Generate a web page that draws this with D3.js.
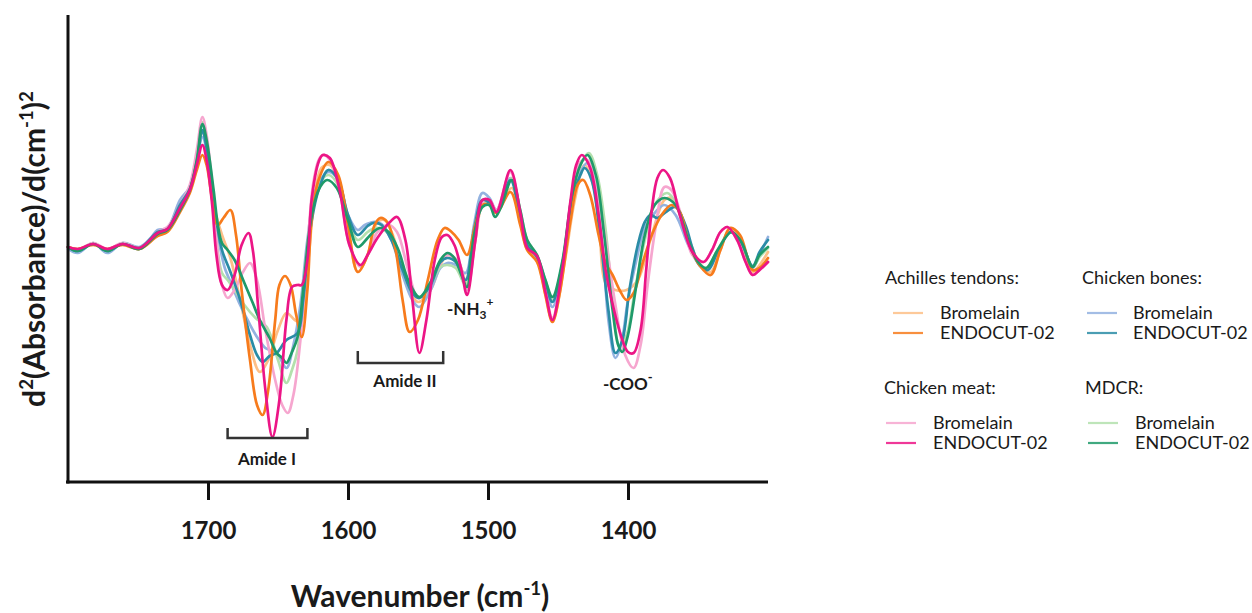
<!DOCTYPE html>
<html>
<head>
<meta charset="utf-8">
<script src="https://cdn.jsdelivr.net/npm/d3@7"></script>
<style>
  body { margin: 0; background: #fff; }
  svg { display: block; }
  text { font-family: Lato, "Open Sans", sans-serif; fill: #1a1a1a; }
</style>
</head>
<body>
<svg id="chart" width="1252" height="613"></svg>
<script>
// Second-derivative FTIR spectra, [wavenumber (cm-1), d2A/dv2 (arb. units)]
const wavenumberTicks = [1700, 1600, 1500, 1400];

const atBromelain = [[1800,0],[1793,-0.02],[1782,0.03],[1772,-0.02],[1761,0.03],[1749,-0.02],[1736,0.13],[1729,0.17],[1720,0.37],[1713,0.57],[1708,0.85],[1704,1.15],[1699,0.77],[1695,0.37],[1690,0.12],[1684,-0.11],[1677,-0.53],[1670,-0.98],[1663,-1.25],[1657,-1.13],[1650,-0.83],[1644,-0.66],[1638,-0.73],[1634,-0.75],[1629,-0.23],[1624,0.47],[1619,0.79],[1613,0.82],[1607,0.67],[1600,0.17],[1593,-0.25],[1586,-0.08],[1579,0.25],[1574,0.27],[1568,0.12],[1559,-0.33],[1550,-0.55],[1541,-0.43],[1534,-0.18],[1529,-0.08],[1521,-0.15],[1515,-0.38],[1509,0.07],[1504,0.42],[1499,0.45],[1494,0.34],[1483,0.59],[1472,-0.03],[1465,-0.13],[1454,-0.73],[1445,-0.13],[1438,0.47],[1431,0.82],[1424,0.57],[1420,0.07],[1416,-0.36],[1409,-0.43],[1401,-0.43],[1393,-0.33],[1384,0.07],[1374,0.47],[1369,0.49],[1359,0.17],[1349,-0.16],[1341,-0.25],[1334,-0.03],[1327,0.19],[1320,0.07],[1311,-0.25],[1306,-0.18],[1300,-0.05]];

const atEndocut = [[1800,0],[1793,-0.02],[1782,0.02],[1772,-0.02],[1761,0.02],[1749,-0.02],[1736,0.11],[1729,0.15],[1720,0.35],[1713,0.54],[1708,0.77],[1704,0.92],[1701,0.82],[1697,0.47],[1693,0.22],[1689,0.29],[1684,0.37],[1680,0.12],[1676,-0.43],[1670,-1.13],[1665,-1.58],[1661,-1.68],[1657,-1.43],[1652,-0.73],[1649,-0.38],[1645,-0.29],[1641,-0.38],[1637,-0.68],[1633,-0.90],[1629,-0.43],[1626,0.27],[1621,0.67],[1614,0.85],[1607,0.72],[1600,0.22],[1593,-0.25],[1586,-0.08],[1581,0.22],[1577,0.29],[1572,0.25],[1566,-0.03],[1561,-0.53],[1556,-0.85],[1550,-0.73],[1543,-0.33],[1536,0.07],[1531,0.19],[1526,0.15],[1521,0.07],[1515,-0.08],[1509,0.22],[1504,0.42],[1499,0.42],[1494,0.34],[1484,0.55],[1477,0.22],[1472,-0.03],[1465,-0.15],[1459,-0.48],[1454,-0.75],[1449,-0.48],[1441,0.27],[1436,0.62],[1432,0.67],[1427,0.52],[1421,0.12],[1416,-0.16],[1411,-0.28],[1406,-0.43],[1401,-0.53],[1396,-0.46],[1390,-0.18],[1383,0.12],[1376,0.32],[1369,0.42],[1363,0.35],[1356,0.02],[1349,-0.18],[1341,-0.28],[1334,-0.03],[1327,0.19],[1320,0.12],[1311,-0.23],[1306,-0.21],[1300,-0.11]];

const cbBromelain = [[1800,-0.02],[1793,-0.06],[1782,0.04],[1772,-0.06],[1761,0.04],[1749,0],[1741,0.09],[1736,0.17],[1729,0.19],[1720,0.47],[1713,0.60],[1708,0.87],[1704,1.10],[1701,0.97],[1697,0.57],[1694,0.22],[1691,-0.03],[1688,-0.21],[1683,-0.38],[1677,-0.58],[1671,-0.75],[1665,-0.90],[1659,-1.01],[1656,-1.03],[1650,-1.08],[1644,-1.21],[1639,-0.98],[1634,-0.58],[1629,0.07],[1623,0.57],[1614,0.75],[1607,0.67],[1600,0.32],[1593,0.17],[1588,0.22],[1582,0.25],[1576,0.23],[1569,0.07],[1561,-0.28],[1554,-0.53],[1549,-0.60],[1541,-0.43],[1534,-0.21],[1529,-0.16],[1523,-0.18],[1516,-0.26],[1510,0.22],[1504,0.54],[1499,0.49],[1494,0.37],[1484,0.69],[1477,0.32],[1472,0.02],[1465,-0.11],[1459,-0.38],[1454,-0.60],[1447,-0.23],[1440,0.47],[1434,0.75],[1429,0.84],[1424,0.62],[1418,-0.03],[1414,-0.73],[1409,-1.11],[1405,-0.98],[1400,-0.53],[1394,-0.13],[1388,0.19],[1381,0.34],[1374,0.42],[1366,0.32],[1357,0.02],[1349,-0.18],[1343,-0.23],[1336,-0.05],[1327,0.15],[1320,0.07],[1311,-0.21],[1306,-0.08],[1300,0.10]];

const cbEndocut = [[1800,0],[1793,-0.04],[1782,0.03],[1772,-0.04],[1761,0.03],[1749,-0.01],[1736,0.15],[1729,0.18],[1720,0.42],[1713,0.58],[1708,0.85],[1704,1.17],[1701,0.99],[1697,0.62],[1694,0.27],[1690,-0.03],[1684,-0.25],[1677,-0.53],[1670,-0.88],[1665,-1.08],[1661,-1.15],[1656,-1.09],[1651,-1.06],[1644,-0.93],[1636,-0.86],[1632,-0.53],[1627,0.17],[1621,0.57],[1614,0.77],[1607,0.67],[1600,0.32],[1593,0.12],[1586,0.21],[1582,0.24],[1576,0.22],[1569,0.07],[1561,-0.23],[1554,-0.46],[1549,-0.51],[1541,-0.38],[1534,-0.15],[1529,-0.11],[1523,-0.15],[1516,-0.33],[1510,0.17],[1504,0.47],[1499,0.44],[1494,0.34],[1484,0.67],[1477,0.29],[1472,0.02],[1465,-0.10],[1459,-0.35],[1454,-0.55],[1447,-0.18],[1440,0.47],[1434,0.72],[1431,0.79],[1426,0.67],[1420,0.12],[1414,-0.63],[1409,-1.06],[1404,-0.93],[1399,-0.43],[1393,0.02],[1388,0.25],[1384,0.32],[1379,0.29],[1373,0.35],[1366,0.40],[1359,0.22],[1354,-0.01],[1349,-0.18],[1343,-0.23],[1336,-0.05],[1327,0.15],[1320,0.07],[1311,-0.19],[1306,-0.05],[1300,0.07]];

const cmBromelain = [[1800,0],[1793,-0.03],[1782,0.04],[1772,-0.02],[1761,0.04],[1749,-0.01],[1736,0.15],[1729,0.20],[1720,0.42],[1713,0.62],[1708,0.97],[1704,1.30],[1701,1.12],[1697,0.62],[1694,0.07],[1690,-0.38],[1686,-0.51],[1681,-0.43],[1675,-0.25],[1670,-0.16],[1665,-0.33],[1659,-0.83],[1652,-1.33],[1647,-1.58],[1643,-1.66],[1639,-1.48],[1634,-0.93],[1629,-0.03],[1625,0.62],[1621,0.87],[1618,0.92],[1613,0.87],[1606,0.57],[1599,0.02],[1591,-0.20],[1586,-0.08],[1579,0.15],[1571,0.22],[1565,0.15],[1557,-0.23],[1550,-0.51],[1543,-0.43],[1536,-0.21],[1529,-0.08],[1521,-0.15],[1515,-0.43],[1509,0.07],[1504,0.45],[1499,0.47],[1494,0.37],[1484,0.75],[1477,0.32],[1472,-0.01],[1465,-0.09],[1459,-0.45],[1454,-0.71],[1447,-0.23],[1440,0.52],[1434,0.85],[1429,0.87],[1424,0.67],[1416,0.07],[1409,-0.58],[1402,-1.08],[1396,-1.21],[1391,-0.98],[1386,-0.38],[1380,0.22],[1374,0.60],[1369,0.57],[1361,0.27],[1354,-0.08],[1346,-0.15],[1340,-0.03],[1334,0.15],[1329,0.20],[1322,0.07],[1316,-0.15],[1311,-0.28],[1306,-0.23],[1300,-0.15]];

const cmEndocut = [[1800,0],[1793,-0.02],[1782,0.03],[1772,-0.02],[1761,0.03],[1749,-0.01],[1736,0.14],[1729,0.18],[1720,0.39],[1713,0.57],[1708,0.82],[1704,1.02],[1701,0.87],[1697,0.42],[1694,-0.08],[1690,-0.38],[1686,-0.43],[1681,-0.28],[1676,0.02],[1671,0.14],[1668,-0.03],[1664,-0.63],[1659,-1.43],[1654,-1.90],[1649,-1.53],[1644,-0.73],[1640,-0.40],[1636,-0.38],[1633,-0.38],[1629,-0.13],[1626,0.47],[1621,0.85],[1618,0.92],[1613,0.89],[1606,0.57],[1599,0.02],[1591,-0.18],[1586,-0.08],[1579,0.09],[1570,0.25],[1565,0.30],[1559,0.07],[1554,-0.53],[1549,-1.06],[1544,-0.73],[1538,-0.13],[1533,0.10],[1529,0.12],[1524,0.02],[1519,-0.23],[1515,-0.48],[1509,0.07],[1504,0.47],[1499,0.47],[1494,0.35],[1484,0.77],[1477,0.35],[1472,-0.01],[1465,-0.09],[1459,-0.45],[1454,-0.73],[1447,-0.23],[1441,0.47],[1437,0.82],[1433,0.92],[1427,0.79],[1421,0.32],[1416,-0.23],[1410,-0.63],[1404,-0.93],[1400,-1.05],[1396,-1.06],[1391,-0.83],[1387,-0.23],[1383,0.37],[1379,0.69],[1375,0.77],[1370,0.69],[1363,0.32],[1354,-0.05],[1346,-0.15],[1340,-0.03],[1334,0.15],[1329,0.20],[1322,0.07],[1316,-0.15],[1311,-0.28],[1306,-0.23],[1300,-0.15]];

const mdcrBromelain = [[1800,0],[1793,-0.03],[1782,0.04],[1772,-0.03],[1761,0.04],[1749,-0.01],[1736,0.14],[1729,0.18],[1720,0.40],[1713,0.59],[1708,0.92],[1704,1.25],[1701,1.07],[1697,0.57],[1694,0.07],[1690,-0.26],[1686,-0.33],[1681,-0.43],[1674,-0.58],[1666,-0.71],[1658,-0.80],[1650,-1.13],[1644,-1.36],[1640,-1.23],[1636,-1.03],[1632,-0.43],[1627,0.22],[1621,0.62],[1614,0.72],[1607,0.62],[1600,0.27],[1593,0.07],[1586,0.15],[1581,0.19],[1574,0.17],[1566,0.02],[1559,-0.31],[1553,-0.48],[1549,-0.51],[1541,-0.38],[1534,-0.20],[1529,-0.18],[1523,-0.21],[1516,-0.38],[1510,0.17],[1504,0.44],[1499,0.45],[1494,0.35],[1483,0.69],[1477,0.37],[1472,0.07],[1465,-0.08],[1459,-0.33],[1454,-0.53],[1447,-0.18],[1440,0.47],[1434,0.82],[1428,0.94],[1422,0.72],[1416,0.17],[1411,-0.53],[1406,-1.00],[1401,-0.88],[1395,-0.43],[1388,0.07],[1381,0.42],[1372,0.54],[1365,0.42],[1357,0.07],[1350,-0.15],[1344,-0.21],[1336,-0.03],[1327,0.15],[1320,0.07],[1311,-0.20],[1306,-0.10],[1300,-0.01]];

const mdcrEndocut = [[1800,0],[1793,-0.04],[1782,0.03],[1772,-0.04],[1761,0.03],[1749,-0.02],[1736,0.13],[1729,0.17],[1720,0.37],[1713,0.57],[1708,0.87],[1704,1.23],[1701,1.07],[1696,0.57],[1693,0.22],[1690,0.04],[1686,-0.03],[1681,-0.13],[1674,-0.36],[1668,-0.56],[1663,-0.73],[1656,-0.91],[1651,-1.06],[1647,-1.11],[1644,-1.16],[1640,-1.05],[1636,-0.90],[1632,-0.43],[1627,0.22],[1621,0.57],[1615,0.67],[1608,0.59],[1600,0.27],[1593,0],[1586,0.09],[1582,0.15],[1577,0.19],[1571,0.15],[1564,-0.03],[1557,-0.33],[1549,-0.50],[1541,-0.35],[1534,-0.13],[1529,-0.06],[1524,-0.11],[1519,-0.28],[1515,-0.40],[1510,0.12],[1504,0.40],[1499,0.42],[1495,0.30],[1491,0.39],[1483,0.67],[1477,0.37],[1472,0.07],[1465,-0.08],[1459,-0.33],[1454,-0.50],[1447,-0.15],[1440,0.52],[1434,0.82],[1429,0.92],[1423,0.72],[1417,0.12],[1411,-0.63],[1407,-0.98],[1404,-1.05],[1400,-0.88],[1394,-0.38],[1388,0.12],[1381,0.42],[1374,0.49],[1366,0.42],[1357,0.07],[1350,-0.15],[1344,-0.21],[1336,-0.03],[1326,0.15],[1319,0.05],[1311,-0.20],[1306,-0.08],[1300,0]];

// Legend groups and their enzyme entries
const sourceNames = ["Achilles tendons:", "Chicken bones:", "Chicken meat:", "MDCR:"];
const enzymeNames = ["Bromelain", "ENDOCUT-02"];

// Series descriptors (light Bromelain traces first, ENDOCUT-02 on top)
const series = [
  { source: 0, enzyme: 0, values: atBromelain,   color: "#fdbf87" },
  { source: 1, enzyme: 0, values: cbBromelain,   color: "#93b2e0" },
  { source: 3, enzyme: 0, values: mdcrBromelain, color: "#b3e0ad" },
  { source: 2, enzyme: 0, values: cmBromelain,   color: "#f6a6cf" },
  { source: 1, enzyme: 1, values: cbEndocut,     color: "#2a8ca6" },
  { source: 0, enzyme: 1, values: atEndocut,     color: "#f77b1c" },
  { source: 3, enzyme: 1, values: mdcrEndocut,   color: "#1f9a6a" },
  { source: 2, enzyme: 1, values: cmEndocut,     color: "#ec1586" }
];

const svg = d3.select("#chart");

const x = d3.scaleLinear().domain([1800, 1300]).range([68, 768]);
const y = d3.scaleLinear().domain([-2.35, 2.32]).range([482, 15]);

// Spectra
const line = d3.line()
  .x(d => x(d[0]))
  .y(d => y(d[1]))
  .curve(d3.curveCatmullRom.alpha(0.5));

svg.append("g")
  .selectAll("path")
  .data(series)
  .join("path")
  .attr("d", d => line(d.values))
  .attr("fill", "none")
  .attr("stroke", d => d.color)
  .attr("stroke-width", 2.7)
  .attr("stroke-linejoin", "round")
  .attr("stroke-linecap", "round");

// Axes
const xAxis = svg.append("g")
  .attr("transform", `translate(0,${y.range()[0]})`)
  .call(d3.axisBottom(x)
    .tickValues(wavenumberTicks)
    .tickFormat(d3.format("d"))
    .tickSize(18).tickSizeOuter(0).tickPadding(22));
xAxis.select(".domain").attr("stroke", "#111").attr("stroke-width", 3).attr("d", `M66,0H${x.range()[1]}`);
xAxis.selectAll(".tick line").attr("stroke", "#111").attr("stroke-width", 3);
xAxis.selectAll(".tick text")
  .attr("font-family", "Lato, sans-serif")
  .attr("font-weight", 700)
  .attr("font-size", 24)
  .attr("fill", "#1a1a1a");

const yAxis = svg.append("g")
  .attr("transform", `translate(${x.range()[0]},0)`)
  .call(d3.axisLeft(y).tickValues([]).tickSizeOuter(0));
yAxis.select(".domain").attr("stroke", "#111").attr("stroke-width", 3)
  .attr("d", `M0,${y.range()[1]}V${y.range()[0] + 1.5}`);

// Text with super/subscripts
function richText(sel, parts, size) {
  parts.forEach(p => {
    const t = sel.append("tspan").text(p.t);
    if (p.sup) t.attr("font-size", size * 0.62).attr("dy", p.dy);
    else if (p.dy) t.attr("dy", p.dy);
  });
}

// Axis titles
const xTitle = svg.append("text")
  .attr("x", 420).attr("y", 607)
  .attr("text-anchor", "middle")
  .attr("font-weight", 700)
  .attr("font-size", 30);
richText(xTitle, [
  { t: "Wavenumber (cm" },
  { t: "-1", sup: true, dy: -12 },
  { t: ")", dy: 12 }
], 30);

const yTitle = svg.append("text")
  .attr("transform", "translate(45,249) rotate(-90)")
  .attr("text-anchor", "middle")
  .attr("font-weight", 700)
  .attr("font-size", 30);
richText(yTitle, [
  { t: "d" },
  { t: "2", sup: true, dy: -12 },
  { t: "(Absorbance)/d(cm", dy: 12 },
  { t: "-1", sup: true, dy: -12 },
  { t: ")", dy: 12 },
  { t: "2", sup: true, dy: -12 }
], 30);

// Band annotations
const ann = svg.append("g").attr("font-weight", 700).attr("font-size", 17);
function bracket(w0, w1, top, bottom) {
  ann.append("path")
    .attr("d", `M${x(w0)},${top}V${bottom}H${x(w1)}V${top}`)
    .attr("fill", "none").attr("stroke", "#333").attr("stroke-width", 2.5);
}
bracket(1686, 1629, 428, 438);
bracket(1593, 1532, 351, 363);
ann.append("text").attr("x", 267).attr("y", 465).attr("text-anchor", "middle").text("Amide I");
ann.append("text").attr("x", 405).attr("y", 387).attr("text-anchor", "middle").text("Amide II");

const nh3 = ann.append("text").attr("x", 447).attr("y", 315);
nh3.append("tspan").text("-NH");
nh3.append("tspan").text("3").attr("font-size", 12).attr("dy", 4);
nh3.append("tspan").text("+").attr("font-size", 12).attr("dy", -13);

const coo = ann.append("text").attr("x", 603).attr("y", 390);
coo.append("tspan").text("-COO");
coo.append("tspan").text("-").attr("font-size", 13).attr("dy", -8);

// Legend
const legendPos = [
  { x: 885, y: 284, lx: 893, tx: 940 },
  { x: 1082, y: 284, lx: 1087, tx: 1133 },
  { x: 884, y: 394, lx: 886, tx: 933 },
  { x: 1085, y: 394, lx: 1088, tx: 1135 }
];
const legend = svg.append("g").attr("font-size", 18);
sourceNames.forEach((name, i) => {
  const p = legendPos[i];
  legend.append("text").attr("x", p.x).attr("y", p.y).text(name);
  series.filter(s => s.source === i)
    .sort((a, b) => a.enzyme - b.enzyme)
    .forEach(s => {
      const ly = p.y + 29 + s.enzyme * 20;
      legend.append("line")
        .attr("x1", p.lx).attr("x2", p.lx + 30)
        .attr("y1", ly).attr("y2", ly)
        .attr("stroke", s.color).attr("stroke-width", 2.2).attr("stroke-opacity", 0.85);
      legend.append("text").attr("x", p.tx).attr("y", ly + 6).text(enzymeNames[s.enzyme]);
    });
});
</script>
</body>
</html>
